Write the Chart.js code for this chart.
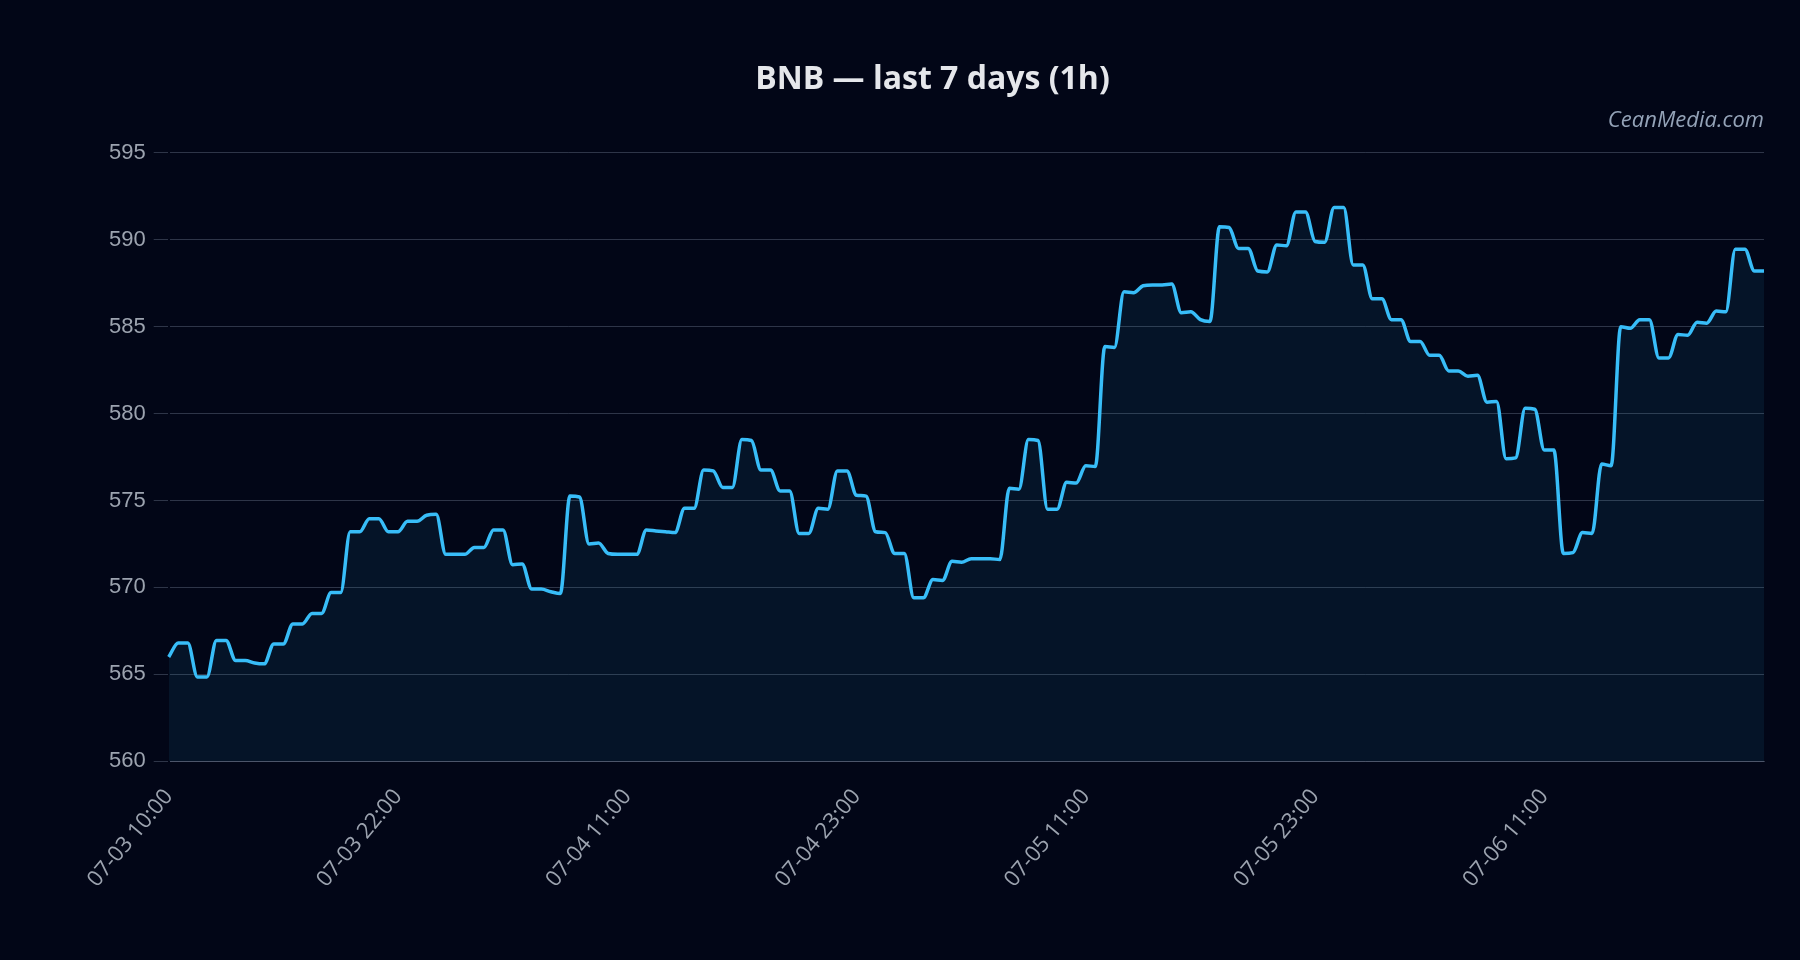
<!DOCTYPE html>
<html>
<head>
<meta charset="utf-8">
<script src="https://cdn.jsdelivr.net/npm/chart.js@4"></script>
<style>
html,body{margin:0;padding:0;background:#020617;}
canvas{display:block;}
</style>
</head>
<body>
<canvas id="c" width="1800" height="960"></canvas>
<script>
const chartTitle = 'BNB — last 7 days (1h)';
const watermark = 'CeanMedia.com';
const tickLabels = ['07-03 10:00','07-03 22:00','07-04 11:00','07-04 23:00','07-05 11:00','07-05 23:00','07-06 11:00'];
const prices = [
566.0,566.8,566.8,564.85,564.85,566.95,566.95,565.8,565.8,565.65,
565.6,566.75,566.75,567.9,567.9,568.5,568.5,569.7,569.7,573.2,
573.2,573.95,573.95,573.2,573.2,573.8,573.8,574.15,574.2,571.9,
571.9,571.9,572.3,572.3,573.3,573.3,571.3,571.35,569.9,569.9,
569.75,569.65,575.25,575.2,572.5,572.55,571.95,571.9,571.9,571.9,
573.3,573.25,573.2,573.15,574.55,574.55,576.75,576.7,575.75,575.75,
578.5,578.45,576.75,576.75,575.55,575.55,573.1,573.1,574.55,574.5,
576.7,576.7,575.3,575.25,573.2,573.15,571.95,571.95,569.4,569.4,
570.45,570.4,571.5,571.45,571.65,571.65,571.65,571.6,575.7,575.65,
578.5,578.45,574.5,574.5,576.05,576.0,577.0,576.95,583.85,583.8,
587.0,586.95,587.35,587.4,587.4,587.45,585.8,585.85,585.4,585.3,
590.75,590.7,589.5,589.5,588.2,588.15,589.7,589.65,591.6,591.6,
589.9,589.85,591.85,591.85,588.55,588.55,586.6,586.6,585.4,585.4,
584.15,584.15,583.35,583.35,582.45,582.45,582.15,582.2,580.65,580.7,
577.4,577.45,580.3,580.25,577.9,577.9,571.95,572.0,573.15,573.1,
577.1,577.0,585.0,584.9,585.4,585.4,583.2,583.2,584.55,584.5,
585.25,585.2,585.9,585.85,589.45,589.45,588.2,588.2
];
const labelEvery = 24;
const categories = prices.map((_, i) => (i % labelEvery === 0 && tickLabels[i / labelEvery]) ? tickLabels[i / labelEvery] : '');

const gridColor = 'rgba(148,163,184,0.3)';
const tickColor = '#9ca3af';

function draw() {
  new Chart(document.getElementById('c').getContext('2d'), {
    type: 'line',
    data: {
      labels: categories,
      datasets: [{
        data: prices,
        borderColor: '#38bdf8',
        borderWidth: 3.5,
        backgroundColor: 'rgba(56,189,248,0.08)',
        fill: 'start',
        pointRadius: 0,
        cubicInterpolationMode: 'monotone'
      }]
    },
    options: {
      responsive: false,
      animation: false,
      devicePixelRatio: 1,
      layout: { padding: { top: 40, left: 101, right: 36, bottom: 52.5 } },
      plugins: {
        legend: { display: false },
        tooltip: { enabled: false },
        title: {
          display: true, text: chartTitle, color: '#e5e7eb',
          font: { family: 'Open Sans', size: 32, weight: 'bold' },
          padding: { top: 20.5, bottom: 7.5 }
        },
        subtitle: {
          display: true, text: watermark, align: 'end', color: '#94a3b8',
          font: { family: 'Open Sans', size: 22, style: 'italic' },
          padding: { top: 1, bottom: 19 }
        }
      },
      scales: {
        x: {
          grid: { display: false },
          border: { color: gridColor },
          afterFit: (s) => { s.paddingLeft = 0; s.paddingRight = 0; },
          ticks: {
            autoSkip: false, minRotation: 50, maxRotation: 50,
            color: tickColor, padding: 15,
            font: { family: 'Open Sans', size: 22 }
          }
        },
        y: {
          min: 560, max: 595,
          ticks: { stepSize: 5, color: tickColor, padding: 8, font: { family: 'Liberation Sans', size: 22 } },
          grid: { color: gridColor, tickLength: 15 },
          border: { color: '#020617', width: 2 }
        }
      }
    }
  });
}

Promise.all([
  document.fonts.load('bold 32px "Open Sans"'),
  document.fonts.load('italic 22px "Open Sans"'),
  document.fonts.load('22px "Open Sans"'),
  document.fonts.load('22px "Liberation Sans"')
]).then(draw, draw);
</script>
</body>
</html>
